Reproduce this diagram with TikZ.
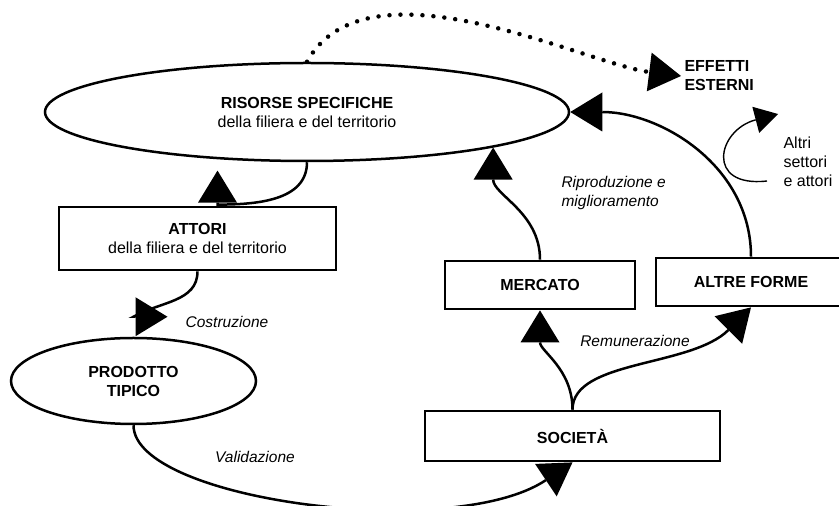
\documentclass[tikz,border=0pt]{standalone}
\usepackage{fontspec}
\setmainfont{Liberation Sans}
\usepackage{tikz}
\usetikzlibrary{arrows.meta, positioning, shapes.geometric}

\begin{document}
\begin{tikzpicture}[
  x=1pt, y=1pt,
  every node/.style={font=\fontsize{16}{19}\selectfont},
  block/.style={rectangle, draw, line width=2.8pt, minimum height=48pt,
                align=center, inner sep=2pt},
  oval/.style={ellipse, draw, line width=2.5pt, align=center, inner sep=0pt},
  lbl/.style={font=\fontsize{15.5}{19}\selectfont\itshape, align=left},
  note/.style={align=left, anchor=west},
  arrow/.style={-{Triangle[length=32pt, width=39pt, line width=0pt]}, line width=2.5pt},
  dotarrow/.style={-{Triangle[length=32pt, width=39pt, line width=0pt]}, line width=4.5pt,
                   line cap=round, dash pattern=on 0pt off 11pt},
  thinarrow/.style={-{Triangle[length=23pt, width=27pt, line width=0pt]}, line width=1.4pt},
]
\useasboundingbox (0,0) rectangle (839,506);
\node[oval, minimum width=524pt, minimum height=98pt] (ris) at (307,394)
      {\textbf{RISORSE SPECIFICHE}\\della filiera e del territorio};
\node[block, minimum width=277pt, minimum height=63pt] (att) at (197.5,267.5)
      {\textbf{ATTORI}\\della filiera e del territorio};
\node[oval, minimum width=245pt, minimum height=86pt] (prod) at (133.5,125)
      {\textbf{PRODOTTO}\\\textbf{TIPICO}};
\node[block, minimum width=190pt] (merc) at (540,221) {\textbf{MERCATO}};
\node[block, minimum width=190pt] (alt)  at (751,224) {\textbf{ALTRE FORME}};
\node[block, minimum width=295pt, minimum height=50pt] (soc) at (572.5,70)
      {\textbf{SOCIETÀ}};
\node[note, font=\fontsize{16}{19}\selectfont\bfseries] (eff) at (681,430)
      {EFFETTI\\ESTERNI};
\node[note] (altri) at (780,344) {Altri\\settori\\e attori};
\node[lbl, anchor=west] (ripr) at (558,313) {Riproduzione e\\miglioramento};
\node[lbl] (remu)  at (635,165) {Remunerazione};
\node[lbl] (costr) at (227,184) {Costruzione};
\node[lbl] (valid) at (255,49)  {Validazione};
\coordinate (attbase)  at ([xshift=20pt, yshift=1pt]att.north);
\coordinate (atttip)   at ([xshift=20pt, yshift=35pt]att.north);
\coordinate (prodbase) at ([yshift=20pt]prod.north);
\coordinate (prodtip)  at ([xshift=34pt, yshift=20pt]prod.north);
\coordinate (loopS) at (767,325);
\coordinate (loopE) at (778,392);
\draw[dotarrow] (ris.north) .. controls +(60,108) and +(-95,12) .. (eff.west);
\draw[arrow] (ris.south)  to[out=-90, in=0] (attbase) -- (atttip);
\draw[arrow] (att.south)  to[out=-90, in=30] (prodbase) -- (prodtip);
\draw[arrow] (prod.south) .. controls +(0,-75) and +(-120,-80) .. (soc.south);
\draw[arrow] (soc.north)  to[out=90, in=-90] (merc.south);
\draw[arrow] (soc.north)  .. controls +(0,50) and +(-60,-60) .. (alt.south);
\draw[arrow] (merc.north) to[out=90, in=-90] (ris.south east);
\draw[arrow] (alt.north)  to[out=90, in=0] (ris.east);
\draw[thinarrow] (loopS) .. controls +(-62,-7) and +(-61,-16) .. (loopE);
\end{tikzpicture}
\end{document}
